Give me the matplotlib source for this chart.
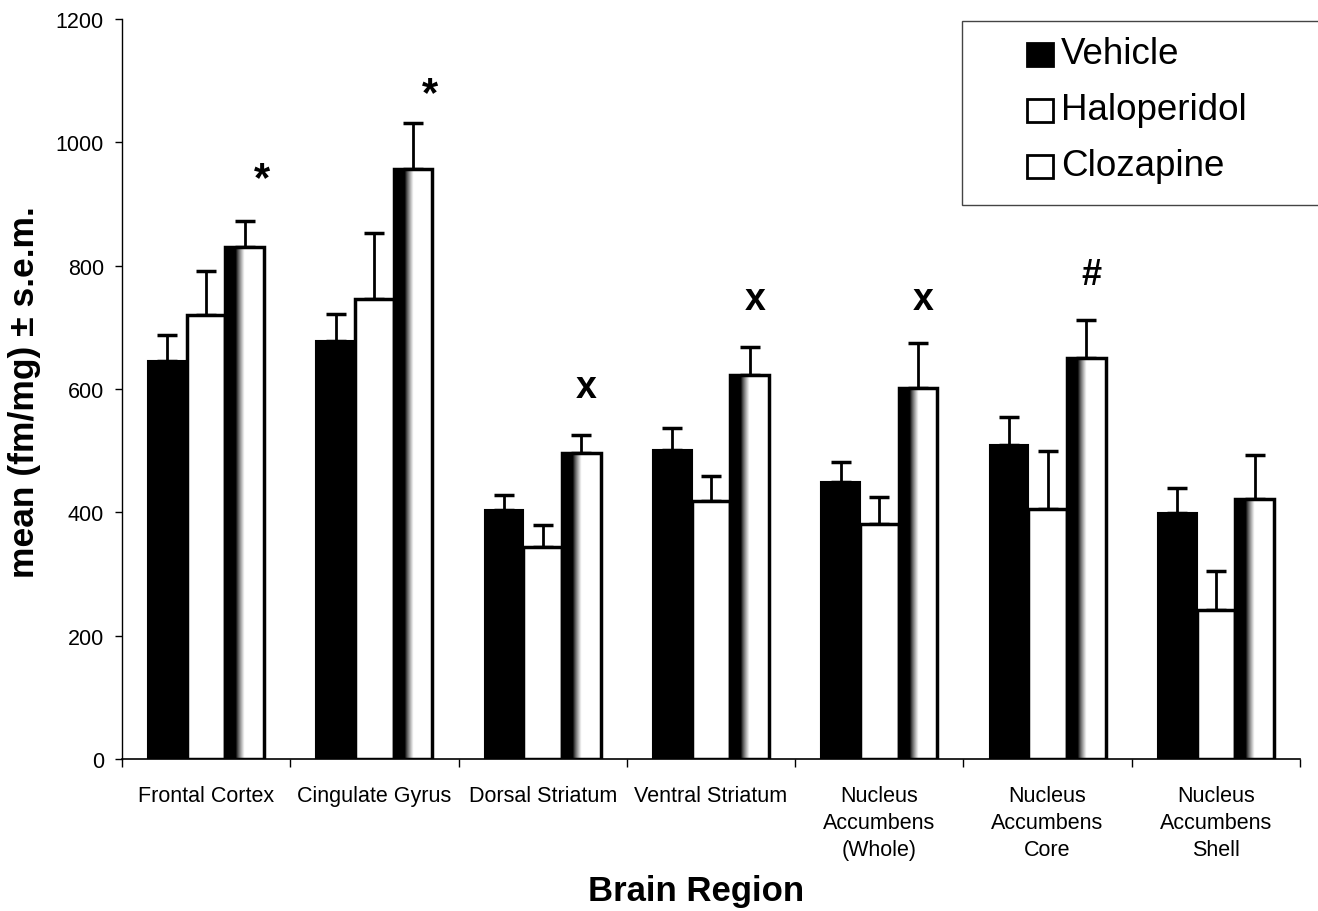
import numpy as np
import matplotlib
matplotlib.use("Agg")
import matplotlib.pyplot as plt
from matplotlib.patches import Rectangle

plt.rcParams['font.family'] = ['Liberation Sans', 'DejaVu Sans']

regions = ['Frontal Cortex', 'Cingulate Gyrus', 'Dorsal Striatum', 'Ventral Striatum',
           'Nucleus\nAccumbens\n(Whole)', 'Nucleus\nAccumbens\nCore', 'Nucleus\nAccumbens\nShell']
vehicle = [645, 678, 404, 501, 450, 510, 399]
vehicle_sem = [43, 44, 24, 36, 32, 45, 41]
haloperidol = [720, 746, 344, 418, 381, 405, 241]
haloperidol_sem = [72, 107, 36, 41, 44, 95, 64]
clozapine = [831, 957, 497, 623, 601, 650, 421]
clozapine_sem = [41, 75, 28, 45, 74, 62, 72]
marks = ['*', '*', 'x', 'x', 'x', '#', '']
mark_y = [940, 1078, 603, 746, 746, 786, 0]

fig = plt.figure(figsize=(13.18, 9.12), dpi=100)
ax = fig.add_axes([122/1318, 152/912, 1178/1318, 740/912])

x = np.arange(len(regions)) + 0.5
w = 0.23

ax.bar(x - w, vehicle, w, color='black', edgecolor='black', linewidth=1.5, zorder=2)
ax.bar(x, haloperidol, w, color='white', edgecolor='black', linewidth=2.5, zorder=2)
cb = ax.bar(x + w, clozapine, w, color='none', edgecolor='black', linewidth=2.5, zorder=3)

# gradient fill for clozapine bars: dark on the left fading to white
cols = np.linspace(0, 1, 200)
grad = np.clip((cols - 0.28) / 0.22, 0, 1) ** 0.8
grad = np.tile(grad, (10, 1))
for b in cb:
    bx, by = b.get_x(), b.get_y()
    im = ax.imshow(grad, cmap='gray', vmin=0, vmax=1, aspect='auto',
                   extent=[bx, bx + b.get_width(), by, by + b.get_height()],
                   interpolation='bilinear', zorder=2)
    im.set_clip_path(b)

eb = dict(fmt='none', ecolor='black', elinewidth=2, capsize=7, capthick=2.5, zorder=1)
ax.errorbar(x - w, vehicle, yerr=[np.zeros(7), vehicle_sem], **eb)
ax.errorbar(x, haloperidol, yerr=[np.zeros(7), haloperidol_sem], **eb)
ax.errorbar(x + w, clozapine, yerr=[np.zeros(7), clozapine_sem], **eb)

for xi, m, my in zip(x, marks, mark_y):
    if m == '*':
        ax.text(xi + w + 0.1, my, m, ha='center', va='center', fontsize=30, fontweight='bold')
    elif m == '#':
        ax.text(xi + w + 0.03, my, m, ha='center', va='center', fontsize=26, fontweight='bold')
    elif m:
        ax.text(xi + w + 0.03, my, m, ha='center', va='center', fontsize=27, fontweight='bold')

ax.set_xlim(0, 7)
ax.set_ylim(0, 1200)
ax.set_yticks(np.arange(0, 1201, 200))
ax.set_xticks(x)
ax.set_xticklabels(regions, fontsize=15.5, linespacing=1.35)
ax.set_xticks(np.arange(0, 8), minor=True)
ax.tick_params(axis='x', which='major', length=0, pad=19)
ax.tick_params(axis='x', which='minor', length=6, direction='out', width=1)
ax.tick_params(axis='y', labelsize=15.5, length=5, width=1, pad=8)
for s in ['top', 'right']:
    ax.spines[s].set_visible(False)
ax.spines['left'].set_linewidth(1)
ax.spines['bottom'].set_linewidth(1.2)

fig.text(25/1318, 1 - 392/912, 'mean (fm/mg) \u00b1 s.e.m.', rotation=90, ha='center', va='center',
         fontsize=25.5, fontweight='bold')
fig.text(696/1318, 1 - 892/912, 'Brain Region', ha='center', va='center', fontsize=25, fontweight='bold')

# legend box
fig.patches.append(Rectangle((962/1318, 1 - 206/912), 400/1318, 184/912, transform=fig.transFigure,
                             facecolor='white', edgecolor='#444444', linewidth=1))
leg_labels = ['Vehicle', 'Haloperidol', 'Clozapine']
leg_face = ['black', 'white', 'white']
for i, (lab, fc) in enumerate(zip(leg_labels, leg_face)):
    yc = 55 + i * 56
    fig.patches.append(Rectangle((1027/1318, 1 - (yc + 12)/912), 26/1318, 23/912, transform=fig.transFigure,
                                 facecolor=fc, edgecolor='black', linewidth=2))
    fig.text(1061/1318, 1 - yc/912, lab, ha='left', va='center', fontsize=26.5)

fig.savefig('out.png', dpi=100)
